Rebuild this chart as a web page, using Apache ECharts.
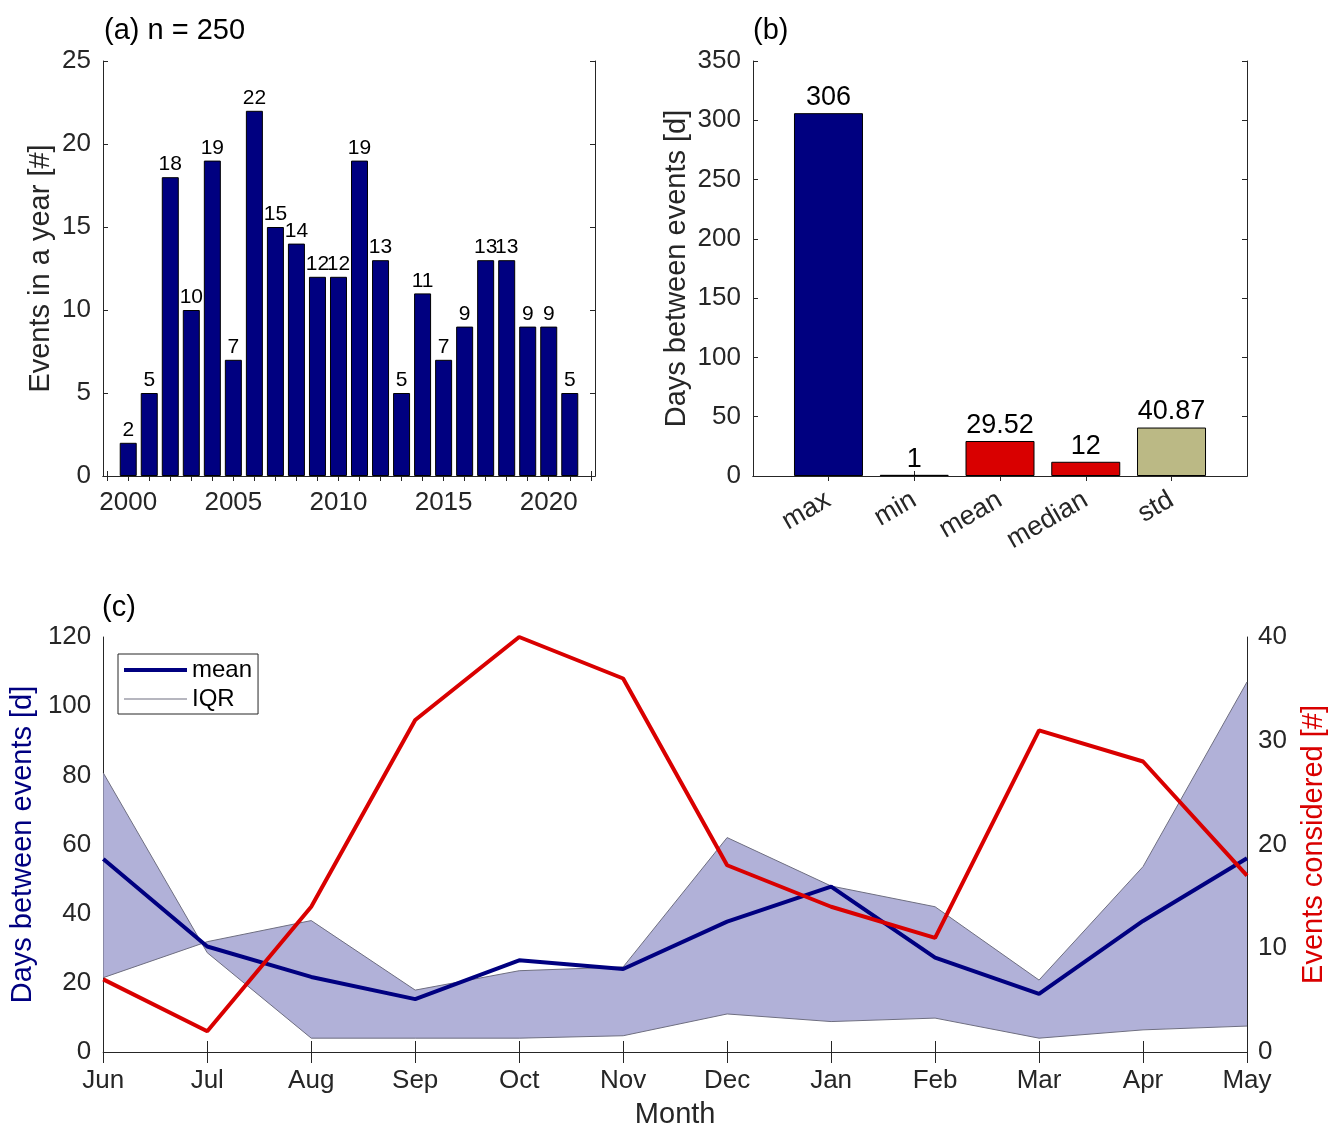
<!DOCTYPE html>
<html>
<head>
<meta charset="utf-8">
<script src="https://cdn.jsdelivr.net/npm/echarts@6/dist/echarts.min.js"></script>
<style>
  html, body { margin: 0; padding: 0; background: #fff; }
  #chart { width: 1342px; height: 1138px; }
</style>
</head>
<body>
<div id="chart"></div>
<script>
// (a) events per year
const years = [2000, 2001, 2002, 2003, 2004, 2005, 2006, 2007, 2008, 2009, 2010,
  2011, 2012, 2013, 2014, 2015, 2016, 2017, 2018, 2019, 2020, 2021]
const eventsPerYear = [2, 5, 18, 10, 19, 7, 22, 15, 14, 12, 12, 19, 13, 5, 11, 7, 9, 13, 13, 9, 9, 5]
const yearTicks = [1999, 2000, 2001, 2002, 2003, 2004, 2005, 2006, 2007, 2008, 2009, 2010,
  2011, 2012, 2013, 2014, 2015, 2016, 2017, 2018, 2019, 2020, 2021, 2022]
const yearLabels = [2000, 2005, 2010, 2015, 2020]

// (b) statistics of days between events
const statNames = ["max", "min", "mean", "median", "std"]
const statValues = [306, 1, 29.52, 12, 40.87]

// (c) seasonal cycle
const months = ["Jun", "Jul", "Aug", "Sep", "Oct", "Nov", "Dec", "Jan", "Feb", "Mar", "Apr", "May"]
const meanDays = [55.8, 30.5, 21.7, 15.3, 26.5, 24.0, 37.7, 47.8, 27.3, 16.8, 37.9, 56.0]
const iqrEdgeA = [80.7, 28.7, 4.0, 4.0, 4.0, 4.7, 11.0, 8.8, 9.8, 4.0, 6.4, 7.5]
const iqrEdgeB = [21.5, 31.9, 38.0, 17.9, 23.5, 24.6, 62.0, 48.0, 42.0, 20.8, 53.6, 107.0]
const eventsConsidered = [7, 2, 14, 32, 40, 36, 18, 14, 11, 31, 28, 17]

const statColors = ["#000080", "#000080", "#d90000", "#d90000", "#bbb985"]
const statPos = statNames.map((n, i) => i + 1)

const ink = "#262626"
const axisLine = { show: true, lineStyle: { color: ink, width: 1 } }

function frameX(grid, pos, extra) {
	return Object.assign({
		gridIndex: grid,
		position: pos,
		axisLine: axisLine,
		splitLine: { show: false },
		axisLabel: { show: false },
		axisTick: { inside: true, length: 5, lineStyle: { color: ink } }
	}, extra)
}

var myChart = echarts.init(document.getElementById("chart"))
myChart.setOption({
	animation: false,
	textStyle: { fontFamily: "Liberation Sans, Arial, sans-serif" },
	title: [
		{ text: "(a) n = 250", left: 99, top: 11, textStyle: { fontSize: 29, fontWeight: "normal", color: "#000" } },
		{ text: "(b)", left: 748, top: 11, textStyle: { fontSize: 29, fontWeight: "normal", color: "#000" } },
		{ text: "(c)", left: 97, top: 588, textStyle: { fontSize: 29, fontWeight: "normal", color: "#000" } }
	],
	legend: {
		orient: "vertical",
		left: 118,
		top: 654,
		data: [
			{ name: "mean", icon: "path://M0,0H63V4H0Z", itemStyle: { color: "#000080" } },
			{ name: "IQR", icon: "path://M0,0H63V1H0Z", itemStyle: { color: "#6e6e80" } }
		],
		backgroundColor: "#fff",
		borderColor: ink,
		borderWidth: 1,
		borderRadius: 0,
		padding: [4, 6, 3, 6],
		itemGap: 5,
		itemWidth: 63,
		itemHeight: 26,
		textStyle: { fontSize: 24, color: "#000" }
	},
	grid: [
		{ left: 103, top: 61, width: 492, height: 415 },
		{ left: 753, top: 61, width: 494, height: 415 },
		{ left: 103, top: 637, width: 1144, height: 415 }
	],
	xAxis: [
		frameX(0, "bottom", {
			type: "value", min: 1998.8, max: 2022.2,
			axisTick: { inside: true, length: 5, customValues: yearTicks, lineStyle: { color: ink } },
			axisLabel: { show: true, customValues: yearLabels, fontSize: 26, color: ink, margin: 14,
				formatter: v => String(v) }
		}),
		frameX(0, "top", {
			type: "value", min: 1998.8, max: 2022.2,
			axisTick: { inside: true, length: 5, customValues: yearTicks, lineStyle: { color: ink } }
		}),
		frameX(1, "bottom", {
			type: "value", min: 0.12, max: 5.88,
			axisTick: { inside: true, length: 5, customValues: statPos, lineStyle: { color: ink } },
			axisLabel: {
				show: true, customValues: statPos, rotate: 30, fontSize: 27, color: ink, margin: 22,
				formatter: v => statNames[Math.round(v) - 1]
			}
		}),
		frameX(1, "top", {
			type: "value", min: 0.12, max: 5.88,
			axisTick: { inside: true, length: 5, customValues: statPos, lineStyle: { color: ink } }
		}),
		frameX(2, "bottom", {
			type: "category", data: months, boundaryGap: false,
			axisTick: { inside: true, length: 11, lineStyle: { color: ink } },
			axisLabel: { show: true, fontSize: 26, color: ink, margin: 16 },
			name: "Month", nameLocation: "middle", nameGap: 48,
			nameTextStyle: { fontSize: 29, color: ink }
		}),
		frameX(2, "top", {
			type: "category", data: months, boundaryGap: false,
			axisTick: { inside: true, length: 11, lineStyle: { color: ink } }
		})
	],
	yAxis: [
		frameX(0, "left", {
			type: "value", min: 0, max: 25, interval: 5,
			axisLabel: { show: true, fontSize: 26, color: ink, margin: 12 },
			name: "Events in a year [#]", nameLocation: "middle", nameGap: 48,
			nameTextStyle: { fontSize: 29, color: ink }
		}),
		frameX(0, "right", { type: "value", min: 0, max: 25, interval: 5 }),
		frameX(1, "left", {
			type: "value", min: 0, max: 350, interval: 50,
			axisLabel: { show: true, fontSize: 26, color: ink, margin: 12 },
			name: "Days between events [d]", nameLocation: "middle", nameGap: 62,
			nameTextStyle: { fontSize: 29, color: ink }
		}),
		frameX(1, "right", { type: "value", min: 0, max: 350, interval: 50 }),
		frameX(2, "left", {
			type: "value", min: 0, max: 120, interval: 20,
			axisTick: { inside: true, length: 11, lineStyle: { color: ink } },
			axisLabel: { show: true, fontSize: 26, color: ink, margin: 12 },
			name: "Days between events [d]", nameLocation: "middle", nameGap: 62,
			nameTextStyle: { fontSize: 29, color: "#000080" }
		}),
		frameX(2, "right", {
			type: "value", min: 0, max: 40, interval: 10,
			axisTick: { inside: true, length: 11, lineStyle: { color: ink } },
			axisLabel: { show: true, fontSize: 26, color: ink, margin: 11 },
			name: "Events considered [#]", nameLocation: "middle", nameGap: 52,
			nameTextStyle: { fontSize: 29, color: "#d90000" }
		})
	],
	series: [
		{
			name: "events",
			type: "bar",
			xAxisIndex: 0,
			yAxisIndex: 0,
			barWidth: 17,
			data: years.map((y, i) => [y, eventsPerYear[i]]),
			itemStyle: { color: "#000080", borderColor: "#000", borderWidth: 1 },
			label: { show: true, position: "top", distance: 2, fontSize: 21, color: "#000",
				formatter: p => p.value[1] }
		},
		{
			name: "stats",
			type: "bar",
			xAxisIndex: 2,
			yAxisIndex: 2,
			barWidth: 69,
			data: statValues.map((v, i) => ({ value: [statPos[i], v], itemStyle: { color: statColors[i] } })),
			itemStyle: { borderColor: "#000", borderWidth: 1 },
			label: { show: true, position: "top", distance: 2, fontSize: 27, color: "#000",
				formatter: p => p.value[1] }
		},
		{
			name: "IQR edge",
			type: "line",
			xAxisIndex: 4,
			yAxisIndex: 4,
			stack: "iqr",
			stackStrategy: "all",
			symbol: "none",
			data: iqrEdgeA,
			lineStyle: { color: "#6e6e80", width: 1 },
			itemStyle: { color: "#6e6e80" }
		},
		{
			name: "IQR",
			type: "line",
			xAxisIndex: 4,
			yAxisIndex: 4,
			stack: "iqr",
			stackStrategy: "all",
			symbol: "none",
			data: iqrEdgeB.map((b, i) => +(b - iqrEdgeA[i]).toFixed(2)),
			lineStyle: { color: "#6e6e80", width: 1 },
			itemStyle: { color: "#6e6e80" },
			areaStyle: { color: "#b1b1d8", opacity: 1 }
		},
		{
			name: "mean",
			type: "line",
			xAxisIndex: 4,
			yAxisIndex: 4,
			symbol: "none",
			data: meanDays,
			lineStyle: { color: "#000080", width: 4 },
			itemStyle: { color: "#000080" }
		},
		{
			name: "events considered",
			type: "line",
			xAxisIndex: 4,
			yAxisIndex: 5,
			symbol: "none",
			data: eventsConsidered,
			lineStyle: { color: "#d90000", width: 4 },
			itemStyle: { color: "#d90000" }
		}
	]
})
</script>
</body>
</html>
